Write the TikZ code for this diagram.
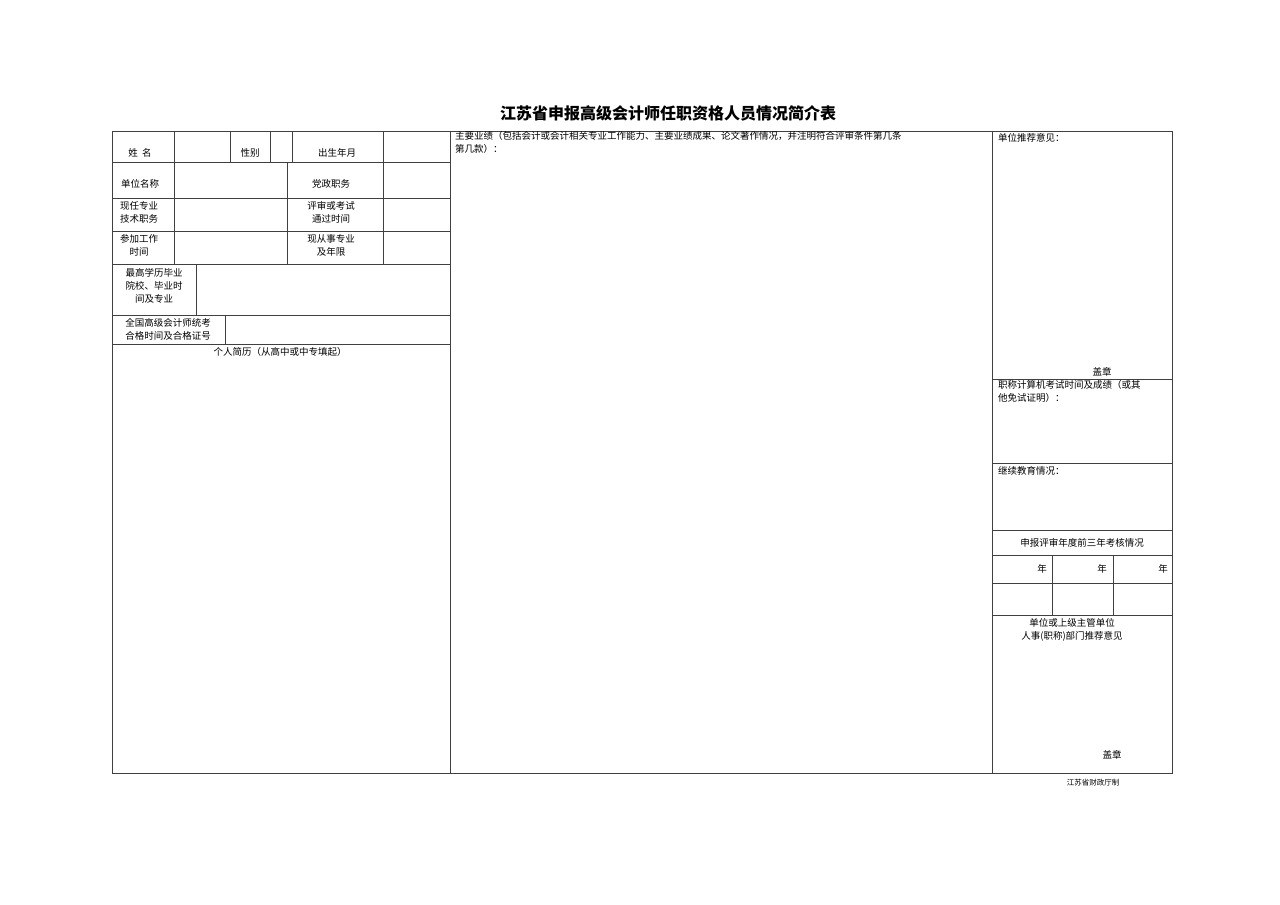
\documentclass[tikz,border=0pt]{standalone}
\usepackage{fontspec}
\setmainfont{Liberation Serif}
\newfontfamily\cjk{Noto Sans CJK SC}
\usetikzlibrary{positioning}
\tikzset{
  grid/.style={line width=.6pt,color=black!75},
  cell/.style={font=\cjk\fontsize{9.5}{13}\selectfont,inner sep=0pt,align=center},
  lcell/.style={cell,anchor=west,align=left},
}
\begin{document}
\begin{tikzpicture}[x=1pt,y=-1pt]
\useasboundingbox (0,0) rectangle (1280,905);
\node[font=\cjk\bfseries\fontsize{16}{18}\selectfont] (title) at (668,113) {江苏省申报高级会计师任职资格人员情况简介表};
% outer frame and main columns
\draw[grid] (112,131) rectangle (1172,773);
\draw[grid] (450,131) -- (450,773);
\draw[grid] (992,131) -- (992,773);
% left block rows
\foreach \y in {162,198,231,264,315,344}
  \draw[grid] (112,\y) -- (450,\y);
\foreach \x in {174,230,270,292,383}
  \draw[grid] (\x,131) -- (\x,162);
\foreach \x in {174,287,383}
  \draw[grid] (\x,162) -- (\x,264);
\draw[grid] (196,264) -- (196,315);
\draw[grid] (225,315) -- (225,344);
% right block rows
\foreach \y in {379,463,530,555,583,615}
  \draw[grid] (992,\y) -- (1172,\y);
\foreach \x in {1052,1113}
  \draw[grid] (\x,555) -- (\x,615);
% left texts
\node[cell] (name) at (140,153) {姓\ \ 名};
\node[cell] (sex) at (250,153) {性别};
\node[cell] (birth) at (337,153) {出生年月};
\node[cell] (unit) at (140,184) {单位名称};
\node[cell] (post) at (331,184) {党政职务};
\node[cell] (title2) at (139,212) {现任专业\\技术职务};
\node[cell] (exam) at (331,212) {评审或考试\\通过时间};
\node[cell] (work) at (139,245) {参加工作\\时间};
\node[cell] (years) at (331,245) {现从事专业\\及年限};
\node[cell] (edu) at (154,286) {最高学历毕业\\院校、毕业时\\间及专业};
\node[cell] (cert) at (168,329) {全国高级会计师统考\\合格时间及合格证号};
\node[cell] (cv) at (280,352) {个人简历（从高中或中专填起）};
% middle texts
\node[lcell,anchor=north west] (perf) at (455,131) {主要业绩（包括会计或会计相关专业工作能力、主要业绩成果、论文著作情况，并注明符合评审条件第几条\\第几款）：};
% right texts
\node[lcell] (rec) at (998,138) {单位推荐意见：};
\node[cell] (seal1) at (1102,372) {盖章};
\node[lcell,anchor=north west] (comp) at (998,380) {职称计算机考试时间及成绩（或其\\他免试证明）：};
\node[lcell] (cont) at (998,471) {继续教育情况：};
\node[cell] (review) at (1082,543) {申报评审年度前三年考核情况};
\node[cell,anchor=east] (y1) at (1047,569) {年};
\node[cell,anchor=east] (y2) at (1107,569) {年};
\node[cell,anchor=east] (y3) at (1168,569) {年};
\node[cell] (hr) at (1072,630) {单位或上级主管单位\\人事(职称)部门推荐意见};
\node[cell] (seal2) at (1112,755) {盖章};
\node[cell,font=\cjk\fontsize{7.5}{9}\selectfont] (maker) at (1093,783) {江苏省财政厅制};
\end{tikzpicture}
\end{document}
